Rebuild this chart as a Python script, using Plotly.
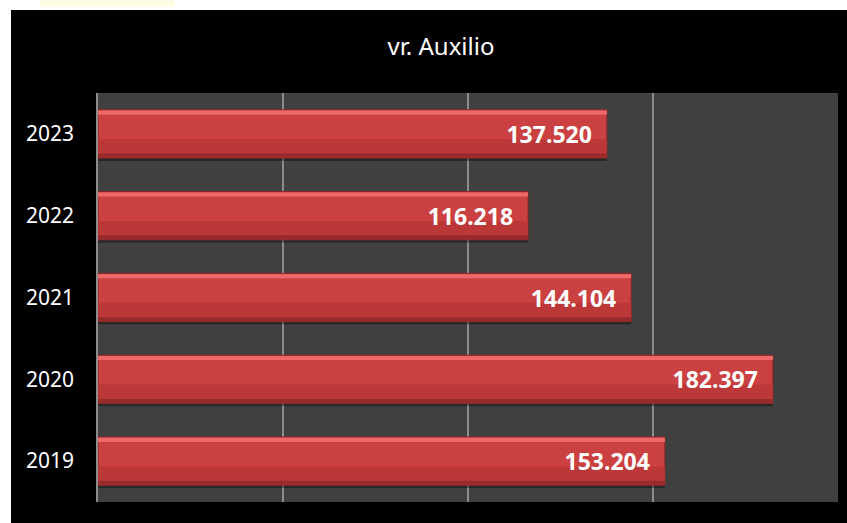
import plotly.graph_objects as go

anios = ["2019", "2020", "2021", "2022", "2023"]
valores = [153204, 182397, 144104, 116218, 137520]
titulo = "vr. Auxilio"

fig = go.Figure()

# sombra
fig.add_trace(go.Bar(
    y=anios, x=valores, orientation="h",
    width=0.59, offset=-0.33,
    marker=dict(color="rgba(0,0,0,0.35)", line=dict(width=0)),
    hoverinfo="skip",
))
# barra principal
fig.add_trace(go.Bar(
    y=anios, x=valores, orientation="h",
    width=0.59, offset=-0.295,
    marker=dict(color="#CB4141", line=dict(color="#8E2626", width=1)),
    hoverinfo="skip",
))
# mitad inferior algo más oscura
fig.add_trace(go.Bar(
    y=anios, x=valores, orientation="h",
    width=0.22, offset=-0.285,
    marker=dict(color="#BC3737", line=dict(width=0)),
    hoverinfo="skip",
))
# brillo superior
fig.add_trace(go.Bar(
    y=anios, x=valores, orientation="h",
    width=0.05, offset=0.235,
    marker=dict(color="#EE6A6A", line=dict(width=0)),
    hoverinfo="skip",
))
# borde inferior oscuro
fig.add_trace(go.Bar(
    y=anios, x=valores, orientation="h",
    width=0.05, offset=-0.29,
    marker=dict(color="#972A2A", line=dict(width=0)),
    hoverinfo="skip",
))
# etiquetas
fig.add_trace(go.Bar(
    y=anios, x=valores, orientation="h",
    width=0.59, offset=-0.295,
    marker=dict(color="rgba(0,0,0,0)", line=dict(width=0)),
    texttemplate="%{x:,.0f}\u00a0\u00a0", textposition="inside",
    insidetextanchor="end",
    textfont=dict(family="Noto Sans", size=23, color="white", weight="bold"),
    hoverinfo="skip",
))

fig.update_layout(
    width=847, height=523,
    barmode="overlay",
    showlegend=False,
    separators=",.",
    paper_bgcolor="black",
    plot_bgcolor="#404040",
    margin=dict(l=98, r=9, t=93, b=21),
    title=dict(text=titulo, x=441 / 847, xref="container", xanchor="center",
               y=0.91, yanchor="middle",
               font=dict(family="Noto Sans", size=24, color="white")),
    font=dict(family="Noto Sans", color="white"),
)
fig.update_xaxes(range=[0, 200000], dtick=50000, showticklabels=False,
                 showgrid=True, gridcolor="#8C8C8C", gridwidth=1.5,
                 zeroline=False, showline=False, fixedrange=True)
fig.update_yaxes(showgrid=False, showline=True, linecolor="#8C8C8C", linewidth=1.5,
                 tickfont=dict(family="Noto Sans", size=21, color="white"),
                 ticklabelstandoff=18, fixedrange=True)

# bordes blancos de la captura
fig.add_shape(type="rect", xref="paper", yref="paper",
              x0=-0.2, x1=1.1, y0=(502 - 10) / 409, y1=1.3,
              fillcolor="white", line=dict(width=0), layer="above")
fig.add_shape(type="rect", xref="paper", yref="paper",
              x0=-0.2, x1=(11 - 98) / 740, y0=-0.1, y1=1.3,
              fillcolor="white", line=dict(width=0), layer="above")
fig.add_shape(type="rect", xref="paper", yref="paper",
              x0=(40 - 98) / 740, x1=(175 - 98) / 740, y0=(502 - 7) / 409, y1=1.3,
              fillcolor="#FFFCE6", line=dict(width=0), layer="above")

fig.write_html("out.html", config={"displayModeBar": False},
               post_script="document.body.style.margin='0';"
                           "document.body.style.overflow='hidden';")
